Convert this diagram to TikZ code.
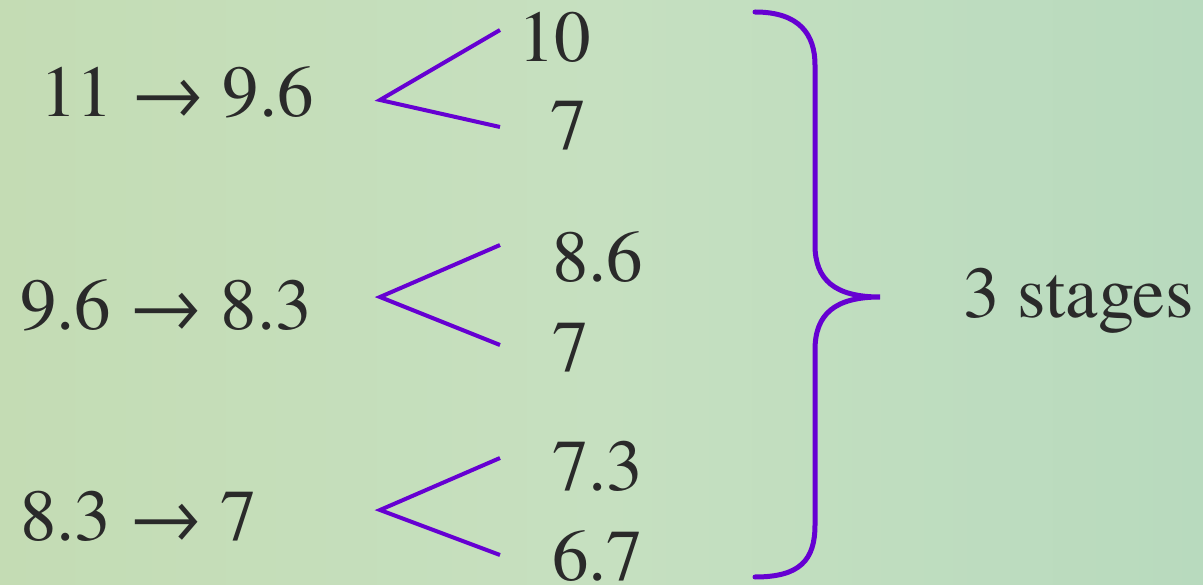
\documentclass[tikz,border=0pt]{standalone}
\usepackage{fontspec}
\setmainfont{texgyretermes-regular.otf}
\definecolor{bgc}{RGB}{196,220,180}
\definecolor{bgd}{RGB}{184,218,190}
\definecolor{txt}{RGB}{42,42,42}
\definecolor{purp}{RGB}{102,0,210}
\tikzset{
  lbl/.style={anchor=base west, inner sep=0pt, text=txt, font=\fontsize{73}{80}\selectfont},
  fork/.style={draw=purp, line width=4pt},
  brace/.style={draw=purp, line width=5pt, line cap=round}
}
\begin{document}
\begin{tikzpicture}[x=1pt,y=-1pt]
\useasboundingbox (0,0) rectangle (1203,585);
\shade[left color=bgc, right color=bgd, middle color={rgb,255:red,198;green,224;blue,192}] (0,0) rectangle (1203,585);
% left expressions
\node[lbl] (a1) at (40,117) {11 → 9.6};
\node[lbl] (a2) at (20,330) {9.6 → 8.3};
\node[lbl] (a3) at (20,540) {8.3 → 7};
% right values
\node[lbl] (r1a) at (518,62) {10};
\node[lbl] (r1b) at (550,150) {7};
\node[lbl] (r2a) at (552,282) {8.6};
\node[lbl] (r2b) at (552,372) {7};
\node[lbl] (r3a) at (552,490) {7.3};
\node[lbl] (r3b) at (552,580) {6.7};
\node[lbl] (st) at (963,318) {3 stages};
% forks
\coordinate (v1) at (380,100);
\coordinate (t1) at (500,30);
\coordinate (b1) at (500,127);
\coordinate (v2) at (380,297);
\coordinate (t2) at (500,245);
\coordinate (b2) at (500,345);
\coordinate (v3) at (380,510);
\coordinate (t3) at (500,458);
\coordinate (b3) at (500,555);
\draw[fork] (t1) -- (v1) -- (b1);
\draw[fork] (t2) -- (v2) -- (b2);
\draw[fork] (t3) -- (v3) -- (b3);
% brace
\coordinate (bt) at (755,12);
\coordinate (bm) at (880,297);
\coordinate (bb) at (755,577);
\draw[brace] (bt) .. controls (800,12) and (815,35) .. (815,65) -- (815,245)
  .. controls (815,280) and (835,297) .. (bm)
  .. controls (835,297) and (815,314) .. (815,350) -- (815,525)
  .. controls (815,560) and (800,577) .. (bb);
\end{tikzpicture}
\end{document}
